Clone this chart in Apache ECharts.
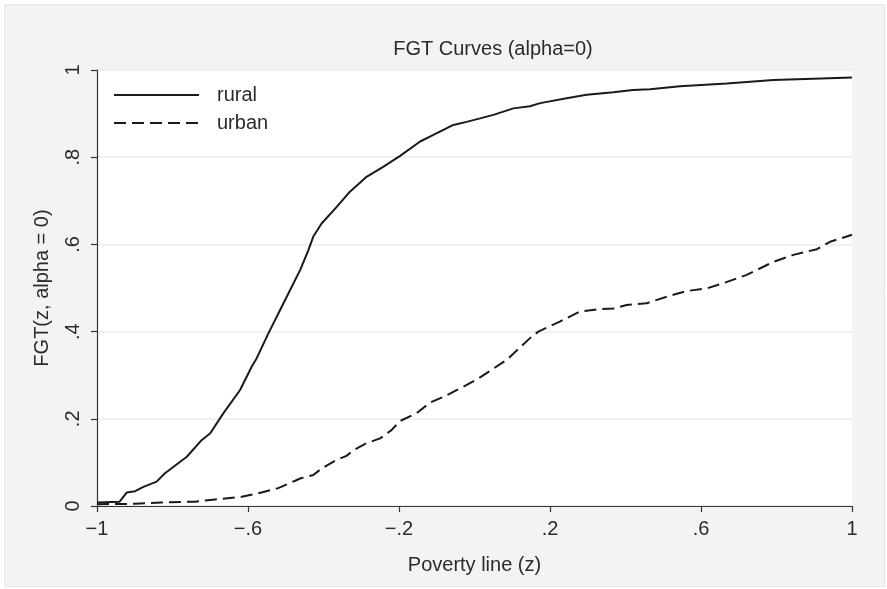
<!DOCTYPE html>
<html>
<head>
<meta charset="utf-8">
<script src="https://cdn.jsdelivr.net/npm/echarts@6/dist/echarts.min.js"></script>
<style>
  html, body { margin: 0; padding: 0; background: #ffffff; }
  #chart { width: 887px; height: 589px; }
</style>
</head>
<body>
<div id="chart"></div>
<script>
// FGT headcount curves (alpha = 0) by poverty line z
var ruralZ = [-1, -0.94, -0.921, -0.899, -0.877, -0.842, -0.82, -0.762, -0.723, -0.70, -0.665, -0.621, -0.59, -0.577, -0.546, -0.506, -0.462, -0.44, -0.427, -0.405, -0.365, -0.33, -0.286, -0.242, -0.197, -0.144, -0.109, -0.056, -0.021, 0.015, 0.05, 0.103, 0.147, 0.174, 0.244, 0.297, 0.368, 0.42, 0.465, 0.544, 0.668, 0.792, 0.898, 1.0];
var ruralFGT = [0.008, 0.01, 0.031, 0.034, 0.044, 0.056, 0.075, 0.113, 0.151, 0.167, 0.213, 0.266, 0.32, 0.339, 0.396, 0.465, 0.541, 0.587, 0.618, 0.648, 0.686, 0.721, 0.755, 0.778, 0.803, 0.836, 0.851, 0.874, 0.881, 0.889, 0.897, 0.912, 0.917, 0.924, 0.935, 0.943, 0.949, 0.954, 0.956, 0.963, 0.969, 0.977, 0.98, 0.983];

var urbanZ = [-1, -0.9, -0.829, -0.74, -0.687, -0.617, -0.564, -0.52, -0.475, -0.462, -0.427, -0.405, -0.365, -0.339, -0.321, -0.286, -0.25, -0.22, -0.197, -0.153, -0.118, -0.083, -0.038, 0.006, 0.085, 0.147, 0.169, 0.226, 0.279, 0.324, 0.368, 0.403, 0.456, 0.509, 0.562, 0.615, 0.659, 0.721, 0.792, 0.845, 0.907, 0.942, 1.0];
var urbanFGT = [0.004, 0.005, 0.008, 0.01, 0.015, 0.021, 0.031, 0.041, 0.058, 0.063, 0.071, 0.086, 0.106, 0.115, 0.128, 0.144, 0.155, 0.174, 0.195, 0.213, 0.237, 0.25, 0.27, 0.29, 0.335, 0.385, 0.40, 0.423, 0.446, 0.451, 0.453, 0.461, 0.465, 0.48, 0.493, 0.499, 0.511, 0.53, 0.56, 0.576, 0.589, 0.606, 0.622];

var xTickValues = [-1, -0.6, -0.2, 0.2, 0.6, 1];
var xTickLabels = ['\u22121', '\u2212.6', '\u2212.2', '.2', '.6', '1'];
var yTickLabels = ['0', '.2', '.4', '.6', '.8', '1'];

function zip(xs, ys) {
  return xs.map(function (x, i) { return [x, ys[i]]; });
}

var FONT = 'Liberation Sans, Arial, sans-serif';
var INK = '#1a1a1a';
var TEXT = '#2b2b2b';

var chart = echarts.init(document.getElementById('chart'), null, { renderer: 'canvas' });

chart.setOption({
  backgroundColor: '#ffffff',
  animation: false,
  graphic: [{
    type: 'rect',
    left: 4, top: 4,
    shape: { width: 880, height: 582 },
    style: { fill: '#f2f4f4', stroke: '#e4e7e7', lineWidth: 1 },
    z: -10
  }],
  title: {
    text: 'FGT Curves (alpha=0)',
    left: 488,
    top: 34,
    textAlign: 'center',
    textStyle: { fontFamily: FONT, fontSize: 20, fontWeight: 'normal', color: TEXT }
  },
  legend: {
    orient: 'vertical',
    left: 113,
    top: 85,
    padding: 0,
    itemWidth: 85,
    itemHeight: 20,
    itemGap: 8,
    itemStyle: { opacity: 0 },
    textStyle: { fontFamily: FONT, fontSize: 20, color: TEXT, padding: [0, 0, 0, 13] },
    data: ['rural', 'urban']
  },
  grid: {
    left: 97, right: 35, top: 70, bottom: 83,
    show: true, backgroundColor: '#ffffff', borderWidth: 0
  },
  xAxis: {
    type: 'value',
    min: -1, max: 1,
    name: 'Poverty line (z)',
    nameLocation: 'middle',
    nameGap: 49,
    nameTextStyle: { fontFamily: FONT, fontSize: 20, color: TEXT },
    axisLine: { show: true, onZero: false, lineStyle: { color: '#333333', width: 1.2 } },
    axisTick: { show: true, length: 6, customValues: xTickValues, lineStyle: { color: '#333333', width: 1.2 } },
    axisLabel: {
      customValues: xTickValues,
      margin: 13,
      fontFamily: FONT, fontSize: 20, color: TEXT,
      formatter: function (v) {
        var i = xTickValues.findIndex(function (t) { return Math.abs(t - v) < 1e-9; });
        return i >= 0 ? xTickLabels[i] : '';
      }
    },
    splitLine: { show: false }
  },
  yAxis: {
    type: 'value',
    min: 0, max: 1, interval: 0.2,
    name: 'FGT(z, alpha = 0)',
    nameLocation: 'middle',
    nameGap: 45,
    nameTextStyle: { fontFamily: FONT, fontSize: 20, color: TEXT },
    axisLine: { show: true, onZero: false, lineStyle: { color: '#333333', width: 1.2 } },
    axisTick: { show: true, length: 6, lineStyle: { color: '#333333', width: 1.2 } },
    axisLabel: {
      rotate: 90,
      margin: 14,
      fontFamily: FONT, fontSize: 20, color: TEXT,
      formatter: function (v) { return yTickLabels[Math.round(v / 0.2)]; }
    },
    splitLine: { show: true, lineStyle: { color: '#ebebeb', width: 1.5 } }
  },
  series: [
    {
      name: 'rural',
      type: 'line',
      data: zip(ruralZ, ruralFGT),
      symbol: 'none',
      lineStyle: { color: INK, width: 2, type: 'solid' },
      itemStyle: { color: INK }
    },
    {
      name: 'urban',
      type: 'line',
      data: zip(urbanZ, urbanFGT),
      symbol: 'none',
      lineStyle: { color: INK, width: 2, type: [12, 6] },
      itemStyle: { color: INK }
    }
  ]
});
</script>
</body>
</html>
